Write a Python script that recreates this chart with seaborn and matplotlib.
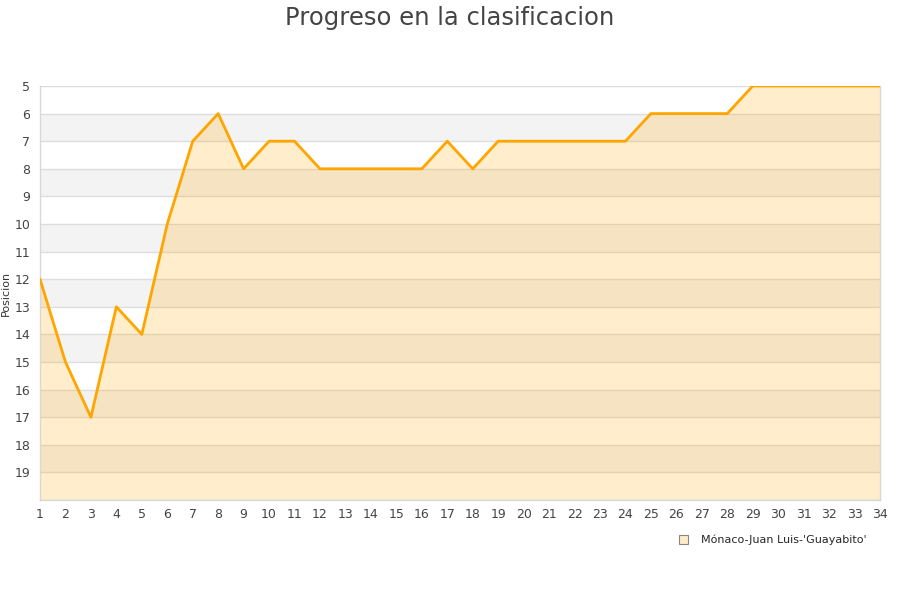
import numpy as np
import pandas as pd
import matplotlib
matplotlib.use("Agg")
import matplotlib.pyplot as plt
import seaborn as sns
from matplotlib.patches import Patch

# ---- data ----
jornadas = list(range(1, 35))
posicion = [12, 15, 17, 13, 14, 10, 7, 6, 8, 7, 7, 8, 8, 8, 8, 8, 7, 8, 7, 7,
            7, 7, 7, 7, 6, 6, 6, 6, 5, 5, 5, 5, 5, 5]
equipo = "Mónaco-Juan Luis-'Guayabito'"
y_ticks = list(range(5, 20))

df = pd.DataFrame({"jornada": jornadas, "posicion": posicion})

sns.set_style("white")
plt.rcParams["font.family"] = ["DejaVu Sans"]

fig = plt.figure(figsize=(9, 6), dpi=100)
ax = fig.add_axes([40 / 900, 1 - 500 / 600, 840 / 900, 414 / 600])

# alternating bands
for k in range(5, 20):
    if k % 2 == 0:
        ax.axhspan(k, k + 1, color="#f3f3f3", lw=0, zorder=0)
for k in range(5, 21):
    ax.axhline(k, color="#dddddd", lw=1, zorder=1)

ax.fill_between(df["jornada"], df["posicion"], 20, color="#ffa500",
                alpha=0.2, lw=0, zorder=2)
sns.lineplot(data=df, x="jornada", y="posicion", color="#ffa500",
             linewidth=2, ax=ax, zorder=3)

ax.set_xlim(1, 34)
ax.set_ylim(20, 5)
ax.set_xticks(jornadas)
ax.set_yticks(y_ticks)
ax.tick_params(axis="both", length=0, labelsize=9, colors="#444444")
ax.tick_params(axis="x", pad=6)
ax.tick_params(axis="y", pad=7)
ax.set_xlabel("")
ax.set_ylabel("Posicion", fontsize=8, color="#333333")
ax.yaxis.set_label_coords(-0.035, 0.5)

ax.spines["top"].set_visible(False)
for side in ["left", "bottom", "right"]:
    ax.spines[side].set_color("#d8d8d8")
    ax.spines[side].set_linewidth(1)

fig.suptitle("Progreso en la clasificacion", fontsize=17.5, color="#444444",
             y=0.99)

handle = Patch(facecolor="#ffecc8", edgecolor="#888888", linewidth=0.8)
fig.legend([handle], [equipo], loc="center", bbox_to_anchor=(773 / 900, 1 - 540 / 600),
           frameon=False, fontsize=8, handlelength=0.8, handleheight=0.8,
           handletextpad=1.2)

fig.savefig("out.png", dpi=100)
